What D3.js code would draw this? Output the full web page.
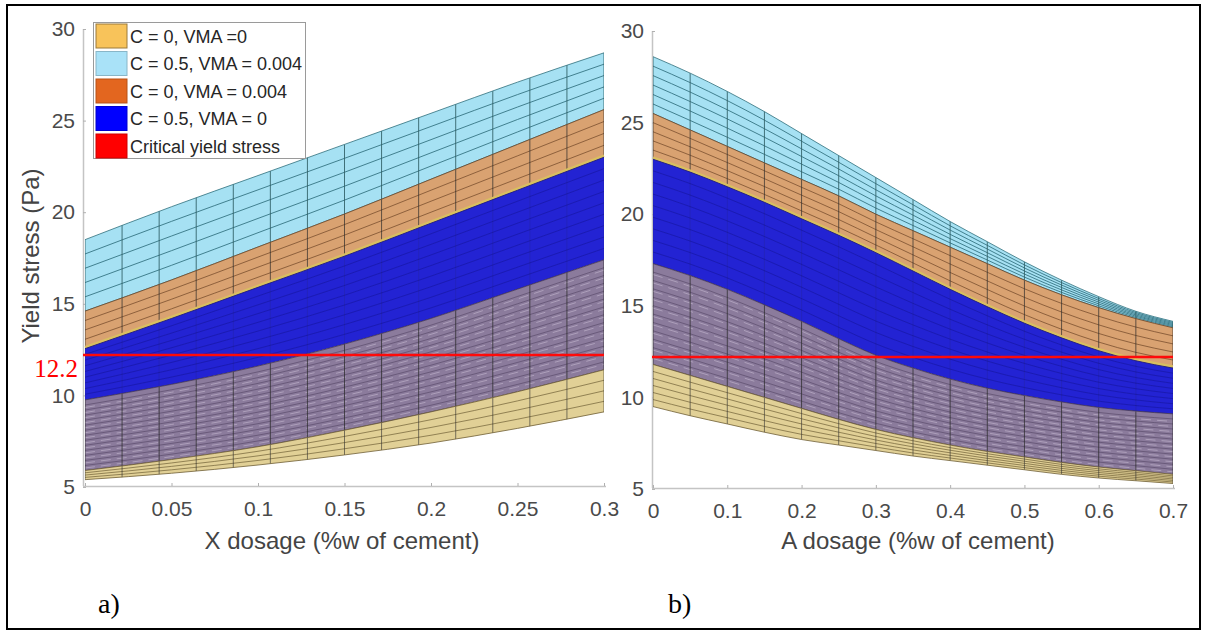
<!DOCTYPE html>
<html>
<head>
<meta charset="utf-8">
<script src="https://cdn.jsdelivr.net/npm/d3@7"></script>
<style>
  html, body { margin: 0; padding: 0; background: #fff; }
  svg { display: block; }
  text { font-family: "Liberation Sans", Arial, Helvetica, sans-serif; }
</style>
</head>
<body>
<svg id="fig" width="1206" height="631"></svg>
<script>
// ---------- data ----------
// Panel a: yield stress envelopes against X dosage (% w of cement)
const xDosage = [0, 0.05, 0.1, 0.15, 0.2, 0.25, 0.3];
const xLightBlueTop = [18.5, 20.3, 22.0, 23.7, 25.4, 27.1, 28.7];
const xOrangeTop    = [14.6, 16.3, 18.1, 19.9, 21.8, 23.7, 25.6];
const xBlueTop      = [12.55, 14.2, 15.9, 17.6, 19.4, 21.2, 23.0];
const xBlueBottom   = [9.75, 10.6, 11.6, 12.8, 14.2, 15.8, 17.4];
const xYellowTop    = [5.9, 6.5, 7.2, 8.1, 9.1, 10.2, 11.4];
const xYellowBottom = [5.4, 5.75, 6.2, 6.75, 7.4, 8.2, 9.1];

// Panel b: yield stress envelopes against A dosage (% w of cement)
const aDosage = [0, 0.05, 0.1, 0.15, 0.2, 0.25, 0.3, 0.35, 0.4, 0.45, 0.5, 0.55, 0.6, 0.65, 0.7];
const aLightBlueTop = [28.6, 27.7, 26.7, 25.6, 24.4, 23.2, 22.0, 20.8, 19.6, 18.5, 17.4, 16.4, 15.5, 14.7, 14.15];
const aOrangeTop    = [25.5, 24.6, 23.7, 22.8, 21.9, 21.0, 20.0, 19.1, 18.2, 17.3, 16.4, 15.6, 14.9, 14.3, 13.8];
const aBlueTop      = [23.0, 22.3, 21.5, 20.65, 19.75, 18.85, 17.9, 16.9, 15.9, 14.95, 14.05, 13.25, 12.55, 12.0, 11.6];
const aBlueBottom   = [17.3, 16.65, 15.9, 15.05, 14.15, 13.2, 12.3, 11.6, 11.0, 10.5, 10.1, 9.75, 9.45, 9.25, 9.1];
const aYellowTop    = [11.8, 11.2, 10.6, 10.0, 9.4, 8.8, 8.25, 7.8, 7.4, 7.05, 6.75, 6.45, 6.2, 6.0, 5.8];
const aYellowBottom = [9.5, 9.0, 8.55, 8.1, 7.7, 7.4, 7.1, 6.8, 6.55, 6.3, 6.05, 5.8, 5.6, 5.45, 5.3];

const criticalStress = 12.2;

const yTicks = [5, 10, 15, 20, 25, 30];
const xDosageTicks = [0, 0.05, 0.1, 0.15, 0.2, 0.25, 0.3];
const aDosageTicks = [0, 0.1, 0.2, 0.3, 0.4, 0.5, 0.6, 0.7];

const legendLabels = ["C = 0, VMA =0", "C = 0.5, VMA = 0.004", "C = 0, VMA = 0.004", "C = 0.5, VMA = 0", "Critical yield stress"];
const legendColors = ["#f8c35a", "#a9e2f8", "#e3661f", "#0000ff", "#ff0000"];

// ---------- drawing ----------
const svg = d3.select("#fig");
const defs = svg.append("defs");
let clipCount = 0;

function drawPanel(cfg) {
  const { xs, x, y, bands, gridCount, xMax } = cfg;
  const g = svg.append("g");

  // axes (light gray box edges of the 3-D view)
  const yAxis = d3.axisLeft(y).tickValues(yTicks).tickSizeInner(-3).tickSizeOuter(0).tickPadding(8);
  const gy = g.append("g").attr("transform", `translate(${cfg.axisX},0)`).call(yAxis);
  const xAxis = d3.axisBottom(x).tickValues(cfg.ticks).tickSizeInner(-3).tickSizeOuter(0).tickPadding(15)
    .tickFormat(d => d === 0 ? "0" : String(+d.toFixed(2)));
  const gx = g.append("g").attr("transform", `translate(0,${cfg.axisY})`).call(xAxis);
  [gx, gy].forEach(a => {
    a.select(".domain").attr("stroke", "#c4c4c4").attr("stroke-width", 1.5);
    a.selectAll(".tick line").attr("stroke", "#b0b0b0");
    a.selectAll(".tick text").attr("fill", "#4a4a4a").style("font-size", "21px");
  });
  gx.select(".domain").attr("d", `M${cfg.axisX},0.5H${x(xMax) + 2}`);
  gy.select(".domain").attr("d", `M0.5,${y(30)}V${cfg.axisY}`);

  const gridXs = d3.range(gridCount).map(i => xMax * i / (gridCount - 1));

  bands.forEach(b => {
    const area = d3.area()
      .x((d, i) => x(xs[i]))
      .y0((d, i) => y(b.bottom[i]))
      .y1((d, i) => y(b.top[i]))
      .curve(d3.curveMonotoneX);

    const id = "band" + (clipCount++);
    defs.append("clipPath").attr("id", id).append("path").attr("d", area(xs));

    const bg = g.append("g");
    bg.append("path").attr("d", area(xs)).attr("fill", b.fill);

    const inner = bg.append("g").attr("clip-path", `url(#${id})`);

    // surface rows along the depth direction
    for (let k = 1; k < b.rows; k++) {
      const t = k / b.rows;
      const row = d3.line()
        .x((d, i) => x(xs[i]))
        .y((d, i) => y(b.bottom[i] + (b.top[i] - b.bottom[i]) * t))
        .curve(d3.curveMonotoneX);
      if (b.light) {
        inner.append("path").attr("d", row(xs)).attr("fill", "none")
          .attr("stroke", b.light).attr("stroke-width", 1).attr("stroke-opacity", 0.45)
          .attr("transform", "translate(0,2.5)").attr("stroke-dasharray", "10 6");
      }
      inner.append("path").attr("d", row(xs)).attr("fill", "none")
        .attr("stroke", b.line).attr("stroke-width", 1).attr("stroke-opacity", b.lineOpacity);
    }

    // surface columns along the dosage direction
    gridXs.forEach(gx0 => {
      inner.append("line")
        .attr("x1", x(gx0)).attr("x2", x(gx0))
        .attr("y1", 0).attr("y2", 631)
        .attr("stroke", b.col || "#2b2b2b").attr("stroke-width", 1)
        .attr("stroke-opacity", b.colOpacity);
    });

    // band edges
    ["top", "bottom"].forEach(side => {
      const edge = d3.line().x((d, i) => x(xs[i])).y((d, i) => y(b[side][i])).curve(d3.curveMonotoneX);
      bg.append("path").attr("d", edge(xs)).attr("fill", "none")
        .attr("stroke", b.edge || b.line).attr("stroke-width", 1).attr("stroke-opacity", 0.8);
    });
    if (b.rim) {
      const edge = d3.line().x((d, i) => x(xs[i])).y((d, i) => y(b.bottom[i]) - 1.5).curve(d3.curveMonotoneX);
      bg.append("path").attr("d", edge(xs)).attr("fill", "none")
        .attr("stroke", b.rim).attr("stroke-width", 2.5);
    }
  });

  // critical yield stress
  g.append("line")
    .attr("x1", cfg.axisX).attr("x2", x(xMax))
    .attr("y1", y(criticalStress)).attr("y2", y(criticalStress))
    .attr("stroke", "#ff0a0a").attr("stroke-width", 2.5);

  // axis titles
  g.append("text")
    .attr("x", cfg.titleX).attr("y", 549)
    .attr("text-anchor", "middle")
    .attr("fill", "#444").style("font-size", "24px")
    .text(cfg.title);

  return g;
}

function bandSet(top1, top2, top3, bot3, top5, bot5, lbRows, orRows, puRows, yeRows) {
  return [
    { top: top1, bottom: top2, fill: "#a6e1f3", line: "#2f6f7c", lineOpacity: 0.85, rows: lbRows, colOpacity: 0.85, col: "#2d5c63" },
    { top: top2, bottom: top3, fill: "#d9a271", line: "#6e4526", lineOpacity: 0.7, rows: orRows, colOpacity: 0.7, rim: "#d8bf60" },
    { top: top3, bottom: bot3, fill: "#2323d3", line: "#12128c", lineOpacity: 0.45, rows: 9, colOpacity: 0.12, edge: "#1a1a80" },
    { top: bot3, bottom: top5, fill: "#8b7b9c", line: "#4e3f5e", lineOpacity: 0.55, rows: puRows, colOpacity: 0.75, light: "#d8cde0" },
    { top: top5, bottom: bot5, fill: "#e1d096", line: "#6f5f36", lineOpacity: 0.7, rows: yeRows, colOpacity: 0.6 }
  ];
}

// panel a
const yA = d3.scaleLinear().domain([5, 30]).range([487, 29]);
const xA = d3.scaleLinear().domain([0, 0.3]).range([85, 604]);
drawPanel({
  xs: xDosage, x: xA, y: yA, xMax: 0.3, gridCount: 15,
  axisX: 83, axisY: 486, ticks: xDosageTicks,
  title: "X dosage (%w of cement)", titleX: 342,
  bands: bandSet(xLightBlueTop, xOrangeTop, xBlueTop, xBlueBottom, xYellowTop, xYellowBottom, 5, 4, 14, 4)
});

// panel b
const yB = d3.scaleLinear().domain([5, 30]).range([489, 31]);
const xB = d3.scaleLinear().domain([0, 0.7]).range([653, 1173]);
drawPanel({
  xs: aDosage, x: xB, y: yB, xMax: 0.7, gridCount: 15,
  axisX: 652, axisY: 488, ticks: aDosageTicks,
  title: "A dosage (%w of cement)", titleX: 918,
  bands: bandSet(aLightBlueTop, aOrangeTop, aBlueTop, aBlueBottom, aYellowTop, aYellowBottom, 6, 5, 12, 6)
});

// y axis title (panel a)
svg.append("text")
  .attr("transform", "translate(39,256) rotate(-90)")
  .attr("text-anchor", "middle")
  .attr("fill", "#444").style("font-size", "24px")
  .text("Yield stress (Pa)");

// critical value label
svg.append("text")
  .attr("x", 78).attr("y", 377)
  .attr("text-anchor", "end")
  .attr("fill", "#ff0000")
  .style("font-family", "'Liberation Serif', 'Times New Roman', serif")
  .style("font-size", "25px")
  .text("12.2");

// legend
const lg = svg.append("g");
lg.append("rect").attr("x", 93.5).attr("y", 22.5).attr("width", 212).attr("height", 136)
  .attr("fill", "#fff").attr("stroke", "#9a9a9a").attr("stroke-width", 1);
legendLabels.forEach((lab, i) => {
  const cy = 36 + i * 27.5;
  lg.append("rect").attr("x", 96).attr("y", cy - 12).attr("width", 31).attr("height", 24)
    .attr("fill", legendColors[i]).attr("stroke", i === 0 ? "#9c7b3a" : d3.color(legendColors[i]).darker(0.6)).attr("stroke-width", 1);
  lg.append("text").attr("x", 130).attr("y", cy + 6.5)
    .attr("fill", "#262626").style("font-size", "18px")
    .text(lab);
});

// panel captions
[["a)", 98], ["b)", 668]].forEach(([t, xp]) => {
  svg.append("text").attr("x", xp).attr("y", 613)
    .style("font-family", "'Liberation Serif', 'Times New Roman', serif")
    .style("font-size", "28px").attr("fill", "#000").text(t);
});

// outer frame
svg.append("rect").attr("x", 7).attr("y", 5).attr("width", 1193).attr("height", 624)
  .attr("fill", "none").attr("stroke", "#000").attr("stroke-width", 2);
</script>
</body>
</html>
